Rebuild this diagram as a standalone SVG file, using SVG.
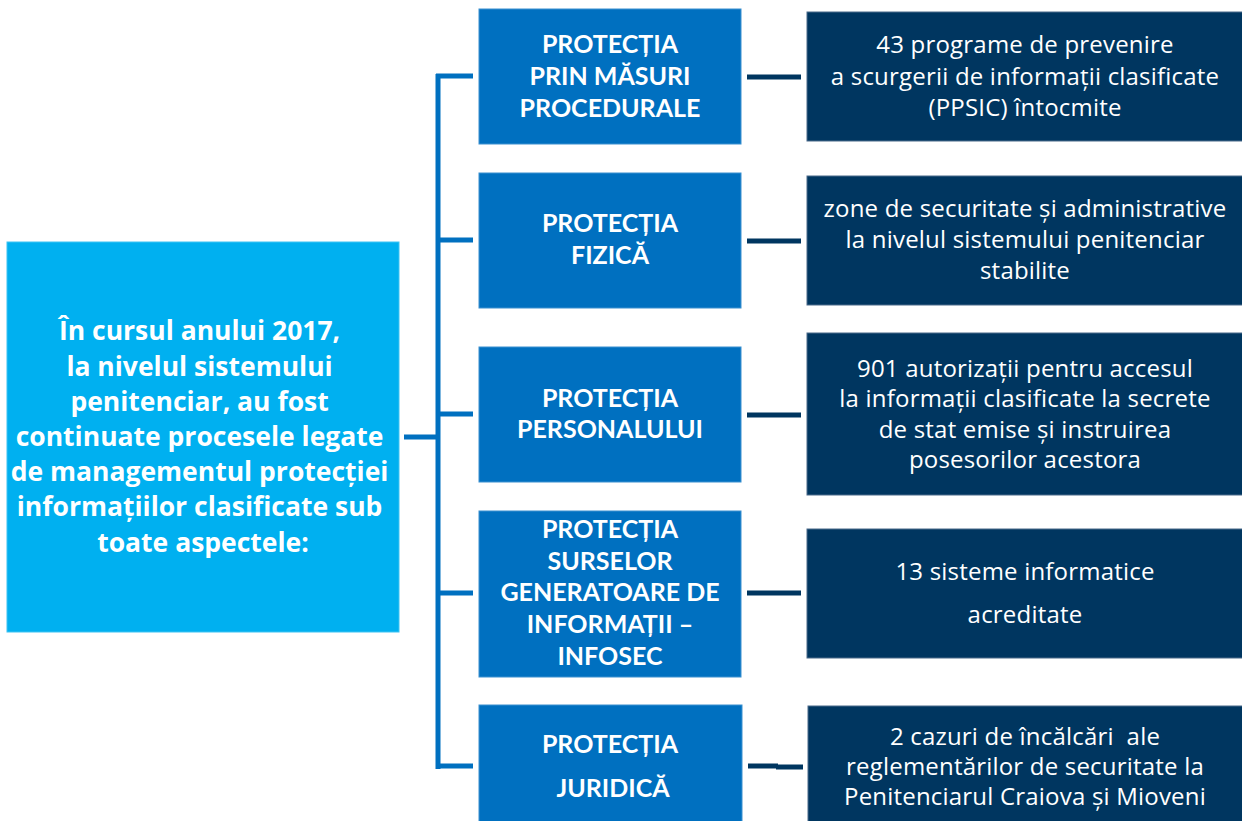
<svg xmlns="http://www.w3.org/2000/svg" width="1242" height="821" viewBox="0 0 1242 821">
<style>
.lbox{fill:#00B0F0;stroke:#3CC3F3;stroke-width:1}
.mbox{fill:#0070C0;stroke:#3A90D0;stroke-width:1}
.rbox{fill:#003660;stroke:#4A6A8A;stroke-width:1}
.tb{font-family:Lato,"Open Sans","Liberation Sans",sans-serif;font-weight:bold;fill:#fff;text-anchor:middle}
.tl{font-family:"Open Sans",Lato,"Liberation Sans",sans-serif;font-weight:bold;fill:#fff;text-anchor:middle;font-size:26.5px}
.tr{font-family:"Open Sans",Lato,"Liberation Sans",sans-serif;fill:#fff;text-anchor:middle;font-size:24px;letter-spacing:0.2px}
.cb{stroke:#0070C0;stroke-width:5;fill:none}
.cd{stroke:#003660;stroke-width:5;fill:none}
</style>
<rect width="1242" height="821" fill="#fff"/>
<g id="connectors">
<line class="cb" x1="404" y1="437" x2="440" y2="437" stroke-width="6"/>
<line class="cb" x1="438" y1="74" x2="438" y2="769"/>
<line class="cb" x1="436" y1="76" x2="473" y2="76"/>
<line class="cb" x1="436" y1="240" x2="473" y2="240"/>
<line class="cb" x1="436" y1="414" x2="473" y2="414"/>
<line class="cb" x1="436" y1="593" x2="473" y2="593"/>
<line class="cb" x1="436" y1="766" x2="473" y2="766"/>
<line class="cd" x1="747" y1="77" x2="801" y2="77"/>
<line class="cd" x1="747" y1="241" x2="801" y2="241"/>
<line class="cd" x1="747" y1="415" x2="801" y2="415"/>
<line class="cd" x1="747" y1="593" x2="801" y2="593"/>
<line class="cd" x1="748" y1="766" x2="778" y2="766"/>
<line class="cd" x1="776" y1="767" x2="803" y2="767"/>
</g>
<g id="root">
<rect class="lbox" x="7" y="242" width="392" height="390"/>
<text class="tl">
<tspan x="203" y="340">În cursul anului 2017,</tspan>
<tspan x="203" y="376">la nivelul sistemului</tspan>
<tspan x="203" y="411">penitenciar, au fost</tspan>
<tspan x="203" y="446">continuate procesele legate</tspan>
<tspan x="203" y="481">de managementul protecției</tspan>
<tspan x="203" y="516">informațiilor clasificate sub</tspan>
<tspan x="203" y="552">toate aspectele:</tspan>
</text>
</g>
<g id="m1">
<rect class="mbox" x="479" y="9" width="262" height="135"/>
<text class="tb" font-size="25"><tspan x="610" y="53">PROTECȚIA</tspan><tspan x="610" y="85">PRIN MĂSURI</tspan><tspan x="610" y="117">PROCEDURALE</tspan></text>
</g>
<g id="m2">
<rect class="mbox" x="479" y="173" width="262" height="135"/>
<text class="tb" font-size="25"><tspan x="610" y="232">PROTECȚIA</tspan><tspan x="610" y="264">FIZICĂ</tspan></text>
</g>
<g id="m3">
<rect class="mbox" x="479" y="347" width="262" height="135"/>
<text class="tb" font-size="25"><tspan x="610" y="407">PROTECȚIA</tspan><tspan x="610" y="438">PERSONALULUI</tspan></text>
</g>
<g id="m4">
<rect class="mbox" x="479" y="511" width="262" height="166"/>
<text class="tb" font-size="25"><tspan x="610" y="538">PROTECȚIA</tspan><tspan x="610" y="570">SURSELOR</tspan><tspan x="610" y="601">GENERATOARE DE</tspan><tspan x="610" y="633">INFORMAȚII –</tspan><tspan x="610" y="665">INFOSEC</tspan></text>
</g>
<g id="m5">
<rect class="mbox" x="479" y="705" width="263" height="130"/>
<text class="tb" font-size="25"><tspan x="610" y="753">PROTECȚIA</tspan><tspan x="613" y="797">JURIDICĂ</tspan></text>
</g>
<g id="r1">
<rect class="rbox" x="807" y="12" width="440" height="129"/>
<text class="tr"><tspan x="1025" y="53">43 programe de prevenire</tspan><tspan x="1025" y="85">a scurgerii de informații clasificate</tspan><tspan x="1025" y="116">(PPSIC) întocmite</tspan></text>
</g>
<g id="r2">
<rect class="rbox" x="807" y="176" width="440" height="129"/>
<text class="tr"><tspan x="1025" y="217">zone de securitate și administrative</tspan><tspan x="1025" y="248">la nivelul sistemului penitenciar</tspan><tspan x="1025" y="279">stabilite</tspan></text>
</g>
<g id="r3">
<rect class="rbox" x="807" y="333" width="440" height="162"/>
<text class="tr"><tspan x="1025" y="377">901 autorizații pentru accesul</tspan><tspan x="1025" y="407">la informații clasificate la secrete</tspan><tspan x="1025" y="438">de stat emise și instruirea</tspan><tspan x="1025" y="468">posesorilor acestora</tspan></text>
</g>
<g id="r4">
<rect class="rbox" x="807" y="529" width="440" height="129"/>
<text class="tr"><tspan x="1025" y="580">13 sisteme informatice</tspan><tspan x="1025" y="623">acreditate</tspan></text>
</g>
<g id="r5">
<rect class="rbox" x="808" y="706" width="440" height="130"/>
<text class="tr"><tspan x="1025" y="745">2 cazuri de încălcări&#160; ale</tspan><tspan x="1025" y="775">reglementărilor de securitate la</tspan><tspan x="1025" y="805">Penitenciarul Craiova și Mioveni</tspan></text>
</g>
</svg>
